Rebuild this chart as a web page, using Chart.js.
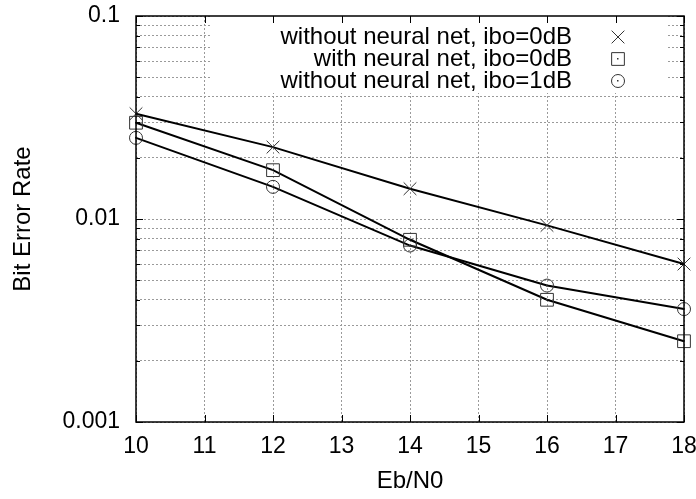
<!DOCTYPE html>
<html>
<head>
<meta charset="utf-8">
<title>Bit Error Rate vs Eb/N0</title>
<script src="https://cdn.jsdelivr.net/npm/chart.js@4.4.0/dist/chart.umd.min.js"></script>
<style>
  html, body { margin: 0; padding: 0; background: #fff; }
  canvas { display: block; }
</style>
</head>
<body>
<canvas id="berChart" width="696" height="499"></canvas>
<script>
// values
const ebN0 = [10, 12, 14, 16, 18];
const berNoNet0dB = [0.0330, 0.0226, 0.0141, 0.0093, 0.0060];
const berNet0dB = [0.0298, 0.0174, 0.0079, 0.0040, 0.0025];
const berNoNet1dB = [0.0251, 0.0144, 0.0074, 0.0047, 0.0036];

const seriesNames = [
  "without neural net, ibo=0dB",
  "with neural net, ibo=0dB",
  "without neural net, ibo=1dB"
];
const pointStyles = ["crossRot", "rect", "circle"];
const pointSizes = [9, 9, 6.5];

const xTicks = [10, 11, 12, 13, 14, 15, 16, 17, 18];
const yLabels = [0.001, 0.01, 0.1];

// log ticks: 1..9 per decade
const yTicks = [];
for (let i = 0; i < yLabels.length - 1; i++) {
  for (let m = 1; m <= 9; m++) yTicks.push(+(m * yLabels[i]).toPrecision(3));
}
yTicks.push(yLabels[yLabels.length - 1]);

const FONT = "'Liberation Sans', Arial, Helvetica, sans-serif";
Chart.defaults.font.family = FONT;
Chart.defaults.font.size = 23;
Chart.defaults.color = "#000";

function toPoints(ys) {
  return ebN0.map((x, i) => ({ x: x, y: ys[i] }));
}

function isLabel(v) {
  return yLabels.some(l => Math.abs(v - l) / l < 1e-6);
}

function drawMarker(ctx, style, x, y, r) {
  ctx.beginPath();
  if (style === "crossRot") {
    const o = Math.SQRT1_2 * r;
    ctx.moveTo(x - o, y - o); ctx.lineTo(x + o, y + o);
    ctx.moveTo(x - o, y + o); ctx.lineTo(x + o, y - o);
  } else if (style === "rect") {
    const s = Math.SQRT1_2 * r;
    ctx.rect(x - s, y - s, 2 * s, 2 * s);
  } else {
    ctx.arc(x, y, r, 0, Math.PI * 2);
  }
  ctx.stroke();
}

// gnuplot look: key box inside the plot, inward ticks, frame
const gnuplotFrame = {
  id: "gnuplotFrame",
  beforeDatasetsDraw(chart) {
    const { ctx, chartArea: a } = chart;
    ctx.save();
    ctx.fillStyle = "#fff";
    ctx.fillRect(a.left + 74, a.top, a.right - a.left - 90, 77);
    ctx.restore();
  },
  afterDatasetsDraw(chart) {
    const { ctx, chartArea: a, scales } = chart;
    ctx.save();

    // small dots in open markers
    ctx.fillStyle = "#333";
    chart.data.datasets.forEach((ds, i) => {
      if (pointStyles[i] === "crossRot") return;
      chart.getDatasetMeta(i).data.forEach(p => {
        ctx.fillRect(Math.round(p.x) - 1, Math.round(p.y) - 1, 1.5, 1.5);
      });
    });

    // key
    ctx.font = "24px " + FONT;
    ctx.textAlign = "right";
    ctx.textBaseline = "middle";
    ctx.strokeStyle = "#333";
    ctx.lineWidth = 1;
    seriesNames.forEach((name, i) => {
      const y = a.top + 21 + i * 22;
      ctx.fillStyle = "#000";
      ctx.fillText(name, a.right - 112, y);
      drawMarker(ctx, pointStyles[i], a.right - 66, y, pointSizes[i]);
      if (pointStyles[i] !== "crossRot") {
        ctx.fillStyle = "#333";
        ctx.fillRect(a.right - 67, y - 1, 1.5, 1.5);
      }
    });

    // inward ticks
    ctx.strokeStyle = "#000";
    ctx.beginPath();
    xTicks.forEach(v => {
      const x = Math.round(scales.x.getPixelForValue(v)) + 0.5;
      ctx.moveTo(x, a.bottom); ctx.lineTo(x, a.bottom - 7);
      ctx.moveTo(x, a.top); ctx.lineTo(x, a.top + 7);
    });
    yTicks.forEach(v => {
      const y = Math.round(scales.y.getPixelForValue(v)) + 0.5;
      const len = isLabel(v) ? 7 : 4;
      ctx.moveTo(a.left, y); ctx.lineTo(a.left + len, y);
      ctx.moveTo(a.right, y); ctx.lineTo(a.right - len, y);
    });
    ctx.stroke();

    ctx.lineWidth = 1.5;
    ctx.strokeRect(a.left, a.top, a.right - a.left, a.bottom - a.top);
    ctx.restore();
  }
};

const ctx = document.getElementById("berChart").getContext("2d");
new Chart(ctx, {
  type: "line",
  data: {
    datasets: [berNoNet0dB, berNet0dB, berNoNet1dB].map((ys, i) => ({
      label: seriesNames[i],
      data: toPoints(ys),
      borderColor: "#000",
      borderWidth: 2,
      pointStyle: pointStyles[i],
      pointRadius: pointSizes[i],
      pointHoverRadius: pointSizes[i],
      pointBorderColor: "#333",
      pointBorderWidth: 1,
      pointBackgroundColor: "rgba(0,0,0,0)",
      tension: 0,
      clip: false
    }))
  },
  options: {
    responsive: false,
    animation: false,
    devicePixelRatio: 1,
    layout: { padding: { top: 16, right: 12, left: 0, bottom: 0 } },
    plugins: {
      legend: { display: false },
      tooltip: { enabled: false }
    },
    scales: {
      x: {
        type: "linear",
        min: 10,
        max: 18,
        afterBuildTicks: s => { s.ticks = xTicks.map(v => ({ value: v })); },
        afterFit: s => { s.height = 77; s.paddingLeft = 0; s.paddingRight = 0; },
        ticks: { padding: 11, autoSkip: false, maxRotation: 0 },
        grid: { color: "#9a9a9a", lineWidth: 1, drawTicks: false },
        border: { display: false, dash: [2, 2] },
        title: {
          display: true,
          text: "Eb/N0",
          font: { size: 24 },
          padding: { top: 0, bottom: 3 }
        }
      },
      y: {
        type: "logarithmic",
        min: 0.001,
        max: 0.1,
        afterBuildTicks: s => { s.ticks = yTicks.map(v => ({ value: v })); },
        afterFit: s => { s.width = 136; s.paddingTop = 0; s.paddingBottom = 0; },
        ticks: {
          padding: 16,
          autoSkip: false,
          callback: v => (isLabel(v) ? String(v) : "")
        },
        grid: { color: "#9a9a9a", lineWidth: 1, drawTicks: false },
        border: { display: false, dash: [2, 2] },
        title: {
          display: true,
          text: "Bit Error Rate",
          font: { size: 24 },
          padding: { top: 9, bottom: 9 }
        }
      }
    }
  },
  plugins: [gnuplotFrame]
});
</script>
</body>
</html>
